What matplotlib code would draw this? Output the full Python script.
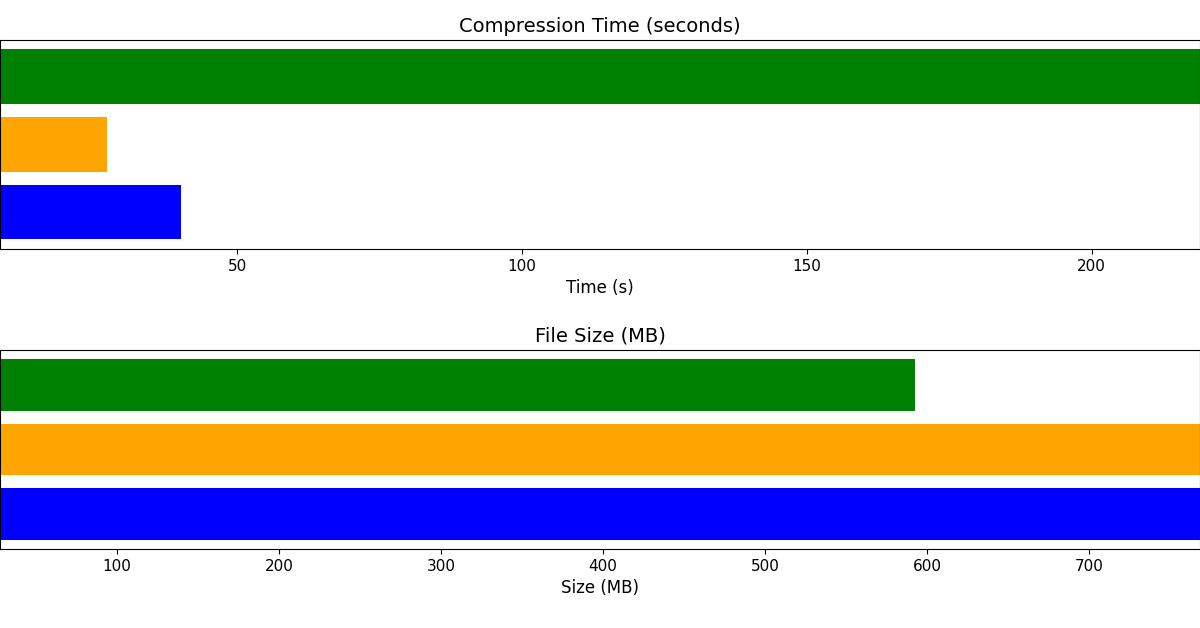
import matplotlib
matplotlib.use("Agg")
import matplotlib.pyplot as plt

methods = ["zstd", "lz4", "gzip"]
colors = ["blue", "orange", "green"]
times = [40.2, 27.2, 235]
sizes = [800, 810, 592.6]

fig = plt.figure(figsize=(12, 6.28), dpi=100)
ax1 = fig.add_axes([0.0, 0.6035, 1.0, 0.333])
ax2 = fig.add_axes([0.0, 0.1258, 1.0, 0.317])

ax1.barh(methods, times, color=colors)
ax1.set_xlim(8.4, 219)
ax1.set_xticks([50, 100, 150, 200])
ax1.set_title("Compression Time (seconds)", fontsize=14)
ax1.set_xlabel("Time (s)", fontsize=12)

ax2.barh(methods, sizes, color=colors)
ax2.set_xlim(27.8, 768.5)
ax2.set_xticks([100, 200, 300, 400, 500, 600, 700])
ax2.set_title("File Size (MB)", fontsize=14)
ax2.set_xlabel("Size (MB)", fontsize=12)

for ax in (ax1, ax2):
    ax.tick_params(axis="x", labelsize=11)
    ax.tick_params(axis="y", left=False, labelleft=False)

fig.savefig("out.png", dpi=100)
